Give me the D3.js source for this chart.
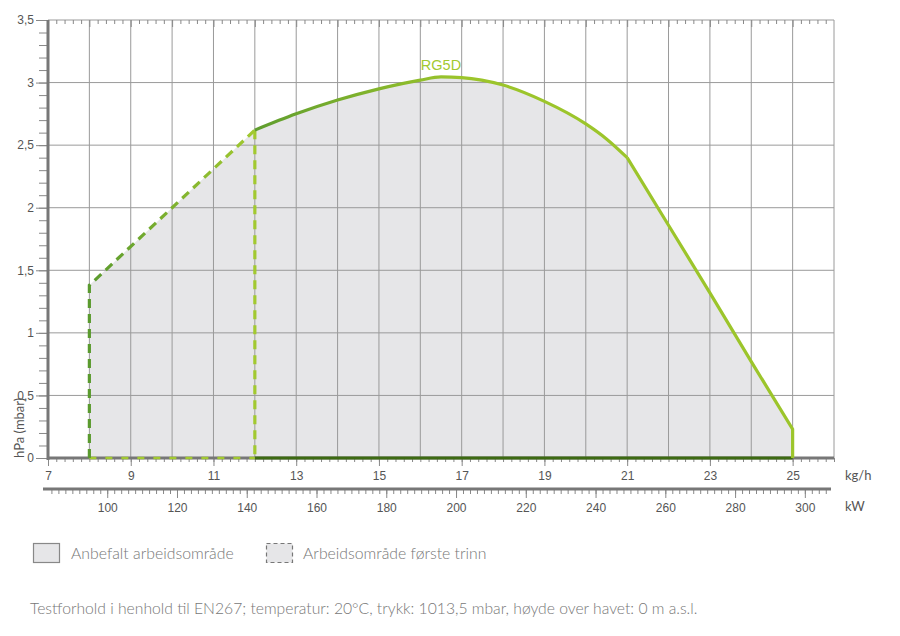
<!DOCTYPE html>
<html><head><meta charset="utf-8">
<script src="https://cdn.jsdelivr.net/npm/d3@7"></script>
<style>
html,body{margin:0;padding:0;background:#fff;}
svg{display:block;font-family:Lato,"Open Sans",sans-serif;}
</style></head>
<body><svg id="c" width="900" height="636"></svg>
<script>
// ---- data ----
const kghTicks = [7, 9, 11, 13, 15, 17, 19, 21, 23, 25];
const kwTicks = [100, 120, 140, 160, 180, 200, 220, 240, 260, 280, 300];
const yTicks = [0, 0.5, 1, 1.5, 2, 2.5, 3, 3.5];
const stageX = [8, 8, 12];
const stageY = [0, 1.38, 2.62];
const curveX = [12, 13, 14, 15, 16, 16.5, 17, 18, 19, 20, 20.5, 21];
const curveY = [2.62, 2.75, 2.86, 2.95, 3.02, 3.045, 3.04, 2.98, 2.85, 2.67, 2.55, 2.40];
const tailX = [21, 22, 23, 24, 25, 25];
const tailY = [2.40, 1.86, 1.32, 0.77, 0.23, 0];
const kwPerKgh = 11.86;
const seriesName = "RG5D";
const legendLabels = ["Anbefalt arbeidsområde", "Arbeidsområde første trinn"];
const footnote = "Testforhold i henhold til EN267; temperatur: 20°C, trykk: 1013,5 mbar, høyde over havet: 0 m a.s.l.";

// ---- scales ----
const svg = d3.select("#c");
const x = d3.scaleLinear().domain([7, 26]).range([48, 834]);
const y = d3.scaleLinear().domain([0, 3.5]).range([458, 20]);
const kw = d3.scaleLinear().domain([7 * kwPerKgh, 26 * kwPerKgh]).range([48, 834]);
const loc = d3.formatLocale({decimal: ",", thousands: ".", grouping: [3], currency: ["", ""]});
const fy = loc.format(".1~f");

const zip = (a, b) => a.map((v, i) => [v, b[i]]);
const stagePts = zip(stageX, stageY);
const curvePts = zip(curveX, curveY);
const tailPts = zip(tailX, tailY);

const lin = d3.line().x(d => x(d[0])).y(d => y(d[1]));
const smooth = d3.line().x(d => x(d[0])).y(d => y(d[1])).curve(d3.curveMonotoneX);

// gradients
const defs = svg.append("defs");
const g1 = defs.append("linearGradient").attr("id", "gSolid").attr("gradientUnits", "userSpaceOnUse")
  .attr("x1", x(12)).attr("x2", x(17)).attr("y1", 0).attr("y2", 0);
g1.append("stop").attr("offset", 0).attr("stop-color", "#5f9d2e");
g1.append("stop").attr("offset", 1).attr("stop-color", "#9cc52b");
const g2 = defs.append("linearGradient").attr("id", "gDash").attr("gradientUnits", "userSpaceOnUse")
  .attr("x1", x(8)).attr("x2", x(12)).attr("y1", 0).attr("y2", 0);
g2.append("stop").attr("offset", 0).attr("stop-color", "#5a9a2e");
g2.append("stop").attr("offset", 1).attr("stop-color", "#a2c930");

// ---- fill area ----
const fillPath = lin(stagePts) + smooth(curvePts).replace(/^M/, "L") + lin(tailPts).replace(/^M/, "L") + "Z";
svg.append("path").attr("d", fillPath).attr("fill", "#e6e6e8");

// ---- grid ----
const grid = svg.append("g").attr("stroke", "#9a9a9a").attr("stroke-width", 1);
d3.range(8, 26).forEach(v => grid.append("line").attr("x1", x(v)).attr("x2", x(v)).attr("y1", y(3.5)).attr("y2", y(0)));
d3.range(0.5, 3.01, 0.5).forEach(v => grid.append("line").attr("x1", x(7)).attr("x2", x(26)).attr("y1", y(v)).attr("y2", y(v)));
// borders
grid.append("line").attr("x1", x(7)).attr("x2", x(26)).attr("y1", y(3.5)).attr("y2", y(3.5));
grid.append("line").attr("x1", x(26)).attr("x2", x(26)).attr("y1", y(3.5)).attr("y2", y(0));

function styleAxis(g, hideText) {
  g.select(".domain").remove();
  g.selectAll(".tick line").attr("stroke", "#888");
  g.selectAll(".tick text").attr("fill", "#555").attr("font-size", 12);
  if (hideText) g.selectAll(".tick text").remove();
}

// top ticks (pointing into plot)
svg.append("g").attr("transform", `translate(0,${y(3.5)})`)
  .call(d3.axisBottom(x).tickValues(d3.range(7.2, 26, 0.2).filter(v => Math.abs(v - Math.round(v)) > 0.01)).tickSize(4))
  .call(g => styleAxis(g, true));
svg.append("g").attr("transform", `translate(0,${y(3.5)})`)
  .call(d3.axisBottom(x).tickValues(d3.range(7, 26, 1)).tickSize(7))
  .call(g => styleAxis(g, true));

// ---- y axis ----
svg.append("g").attr("transform", `translate(${x(7)},0)`)
  .call(d3.axisLeft(y).tickValues(d3.range(0, 35).map(v => v / 10)).tickSize(9))
  .call(g => styleAxis(g, true));
svg.append("g").attr("transform", `translate(${x(7)},0)`)
  .call(d3.axisLeft(y).tickValues(yTicks).tickFormat(fy).tickSize(12).tickPadding(2))
  .call(g => styleAxis(g, false));

// ---- kg/h axis ----
const xa = svg.append("g").attr("transform", `translate(0,${y(0)})`);
xa.call(d3.axisBottom(x).tickValues(d3.range(7, 26.01, 0.2).map(v => Math.round(v * 10) / 10)).tickSize(4)).call(g => styleAxis(g, true));
svg.append("g").attr("transform", `translate(0,${y(0)})`)
  .call(d3.axisBottom(x).tickValues(kghTicks).tickSize(8).tickPadding(5))
  .call(g => styleAxis(g, false));

// ---- kW axis ----
const kwY = 489;
svg.append("g").attr("transform", `translate(0,${kwY})`)
  .call(d3.axisBottom(kw).tickValues(d3.range(84, 308, 2)).tickSize(5)).call(g => styleAxis(g, true));
svg.append("g").attr("transform", `translate(0,${kwY})`)
  .call(d3.axisBottom(kw).tickValues(kwTicks).tickSize(9).tickPadding(5))
  .call(g => styleAxis(g, false));
svg.append("line").attr("x1", 43).attr("x2", 831).attr("y1", kwY).attr("y2", kwY).attr("stroke", "#777").attr("stroke-width", 3);

// unit labels
svg.append("text").attr("x", 845).attr("y", 480).text("kg/h").attr("fill", "#555").attr("font-size", 13);
svg.append("text").attr("x", 845).attr("y", 511).text("kW").attr("fill", "#555").attr("font-size", 13);
svg.append("text").attr("transform", "translate(24,458) rotate(-90)").text("hPa (mbar)").attr("fill", "#555").attr("font-size", 13);

// main axes lines
svg.append("line").attr("x1", x(7)).attr("x2", x(26)).attr("y1", y(0)).attr("y2", y(0)).attr("stroke", "#777").attr("stroke-width", 3);
svg.append("line").attr("x1", x(7)).attr("x2", x(7)).attr("y1", y(3.5)).attr("y2", y(0) + 2).attr("stroke", "#777").attr("stroke-width", 3);

// ---- curves ----
svg.append("line").attr("x1", x(12)).attr("x2", x(25)).attr("y1", y(0)).attr("y2", y(0)).attr("stroke", "#3d6a12").attr("stroke-width", 3);
svg.append("line").attr("x1", x(8)).attr("x2", x(12)).attr("y1", y(0)).attr("y2", y(0)).attr("stroke", "#a2c930").attr("stroke-width", 2.5).attr("stroke-dasharray", "7,9");
svg.append("path").attr("d", lin(stagePts)).attr("fill", "none").attr("stroke", "url(#gDash)").attr("stroke-width", 3.2).attr("stroke-dasharray", "9,6");
svg.append("path").attr("d", lin([[12, 2.62], [12, 0]])).attr("fill", "none").attr("stroke", "#a2c930").attr("stroke-width", 3.2).attr("stroke-dasharray", "9,6");
svg.append("path").attr("d", smooth(curvePts)).attr("fill", "none").attr("stroke", "url(#gSolid)").attr("stroke-width", 3.2);
svg.append("path").attr("d", lin(tailPts)).attr("fill", "none").attr("stroke", "#9cc52b").attr("stroke-width", 3.2);

svg.append("text").attr("x", x(16.5)).attr("y", 70).attr("text-anchor", "middle").text(seriesName)
  .attr("fill", "#a2c930").attr("font-size", 14.5).attr("font-family", "'Liberation Sans',Arial,sans-serif");

// ---- legend ----
svg.append("rect").attr("x", 33.5).attr("y", 543.5).attr("width", 26).attr("height", 19).attr("fill", "#e6e6e8").attr("stroke", "#888").attr("stroke-width", 1.2);
svg.append("text").attr("x", 71).attr("y", 559).text(legendLabels[0]).attr("fill", "#777").attr("font-size", 15.8).attr("font-weight", 300);
svg.append("rect").attr("x", 266.5).attr("y", 543.5).attr("width", 26).attr("height", 19).attr("fill", "#e6e6e8").attr("stroke", "#777").attr("stroke-width", 1.2).attr("stroke-dasharray", "4,3");
svg.append("text").attr("x", 303).attr("y", 559).text(legendLabels[1]).attr("fill", "#777").attr("font-size", 15.8).attr("font-weight", 300);

svg.append("text").attr("x", 30).attr("y", 614).text(footnote).attr("fill", "#777").attr("font-size", 15.7).attr("font-weight", 300);
</script></body></html>
